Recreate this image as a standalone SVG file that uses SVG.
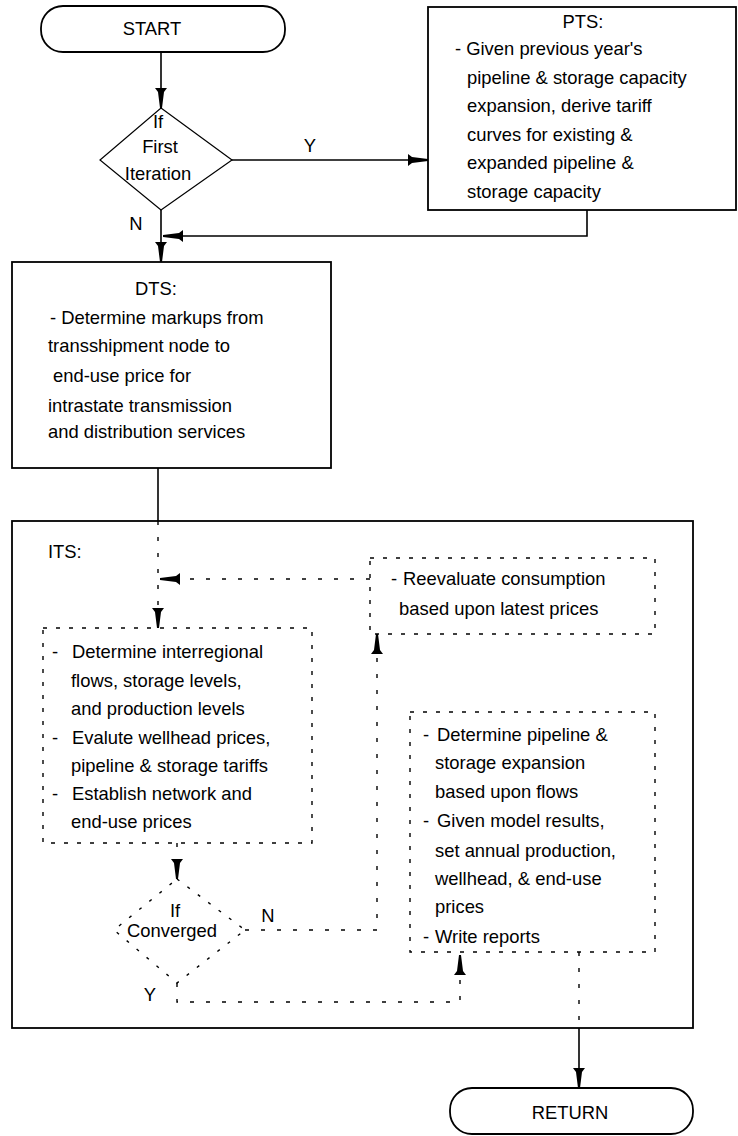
<svg xmlns="http://www.w3.org/2000/svg" width="738" height="1136" viewBox="0 0 738 1136">
<style>
text{font-family:"Liberation Sans",Arial,sans-serif;font-size:18.4px;fill:#000}
.mid{text-anchor:middle}
.box{fill:#fff;stroke:#000;stroke-width:1.8}
.dbox{fill:none;stroke:#000;stroke-width:1.4;stroke-dasharray:4 9}
.dia{fill:#fff;stroke:#000;stroke-width:1.2}
.ddia{fill:none;stroke:#000;stroke-width:1.4;stroke-dasharray:3 10}
.c{fill:none;stroke:#000;stroke-width:1.6}
.cd{fill:none;stroke:#000;stroke-width:1.4;stroke-dasharray:4 12}
</style>
<defs>
<marker id="ah" viewBox="0 0 20 12" refX="20" refY="6" markerWidth="20" markerHeight="12" markerUnits="userSpaceOnUse" orient="auto">
<path d="M0,0 L4,3 L20,5 L20,7 L4,9 L0,12 Z" fill="#000"/>
</marker>
</defs>
<rect width="738" height="1136" fill="#fff"/>

<g id="its">
<rect class="box" x="12" y="521" width="681" height="507" stroke-width="2.2"/>
<text x="48" y="558">ITS:</text>
</g>

<g id="connectors">
<line class="c" x1="161" y1="52" x2="161" y2="108" marker-end="url(#ah)"/>
<line class="c" x1="232" y1="160" x2="428" y2="160" marker-end="url(#ah)"/>
<line class="c" x1="161" y1="210" x2="161" y2="262" marker-end="url(#ah)"/>
<polyline class="c" points="587,210 587,236 163,236" marker-end="url(#ah)"/>
<line class="c" x1="158" y1="468" x2="158" y2="521"/>
<line class="cd" x1="158" y1="521" x2="158" y2="628" marker-end="url(#ah)"/>
<line class="cd" x1="370" y1="579" x2="160" y2="579" marker-end="url(#ah)"/>
<line class="cd" x1="177" y1="843" x2="177" y2="879" marker-end="url(#ah)"/>
<polyline class="cd" points="245,930 377,930 377,634" marker-end="url(#ah)"/>
<polyline class="cd" points="177,983 177,1002 460,1002 460,955" marker-end="url(#ah)"/>
<line class="cd" x1="579" y1="952" x2="579" y2="1028"/>
<line class="c" x1="579" y1="1028" x2="579" y2="1088" marker-end="url(#ah)"/>
<text class="mid" x="310" y="152">Y</text>
<text class="mid" x="136" y="230">N</text>
<text class="mid" x="268" y="922">N</text>
<text class="mid" x="150" y="1001">Y</text>
</g>

<g id="start">
<rect class="box" x="41" y="6" width="244" height="46" rx="22" ry="22" stroke-width="1.5"/>
<text class="mid" x="152" y="35">START</text>
</g>

<g id="first-iteration">
<polygon class="dia" points="161,108 232,160 161,210 100,160"/>
<text class="mid" x="158" y="128">If</text>
<text class="mid" x="160" y="153">First</text>
<text class="mid" x="158" y="180">Iteration</text>
</g>

<g id="pts">
<rect class="box" x="428" y="7" width="308" height="203"/>
<text class="mid" x="583" y="28">PTS:</text>
<text x="455" y="55">- Given previous year's</text>
<text x="467" y="84">pipeline &amp; storage capacity</text>
<text x="467" y="112">expansion, derive tariff</text>
<text x="467" y="141">curves for existing &amp;</text>
<text x="467" y="169">expanded pipeline &amp;</text>
<text x="467" y="198">storage capacity</text>
</g>

<g id="dts">
<rect class="box" x="12" y="262" width="319" height="206"/>
<text class="mid" x="156" y="295">DTS:</text>
<text x="50" y="324">- Determine markups from</text>
<text x="48" y="352">transshipment node to</text>
<text x="53" y="382">end-use price for</text>
<text x="48" y="412">intrastate transmission</text>
<text x="48" y="438">and distribution services</text>
</g>

<g id="reevaluate">
<rect class="dbox" x="370" y="558" width="285" height="76"/>
<text x="391" y="585">- <tspan x="403">Reevaluate consumption</tspan></text>
<text x="399" y="615">based upon latest prices</text>
</g>

<g id="determine-flows">
<rect class="dbox" x="43" y="628" width="269" height="215"/>
<text x="52" y="658">- <tspan x="72">Determine interregional</tspan></text>
<text x="71" y="687">flows, storage levels,</text>
<text x="71" y="715">and production levels</text>
<text x="52" y="744">- <tspan x="72">Evalute wellhead prices,</tspan></text>
<text x="71" y="772">pipeline &amp; storage tariffs</text>
<text x="52" y="800">- <tspan x="72">Establish network and</tspan></text>
<text x="71" y="828">end-use prices</text>
</g>

<g id="converged">
<polygon class="ddia" points="177,879 245,930 177,983 114,930"/>
<text class="mid" x="175" y="917">If</text>
<text class="mid" x="172" y="937">Converged</text>
</g>

<g id="expansion">
<rect class="dbox" x="410" y="712" width="245" height="240"/>
<text x="423" y="741">- <tspan x="437">Determine pipeline &amp;</tspan></text>
<text x="435" y="769">storage expansion</text>
<text x="435" y="798">based upon flows</text>
<text x="423" y="827">- <tspan x="437">Given model results,</tspan></text>
<text x="435" y="857">set annual production,</text>
<text x="435" y="885">wellhead, &amp; end-use</text>
<text x="435" y="913">prices</text>
<text x="423" y="943">- <tspan x="435">Write reports</tspan></text>
</g>

<g id="return">
<rect class="box" x="450" y="1088" width="243" height="46" rx="22" ry="22" stroke-width="1.5"/>
<text class="mid" x="570" y="1119">RETURN</text>
</g>
</svg>
